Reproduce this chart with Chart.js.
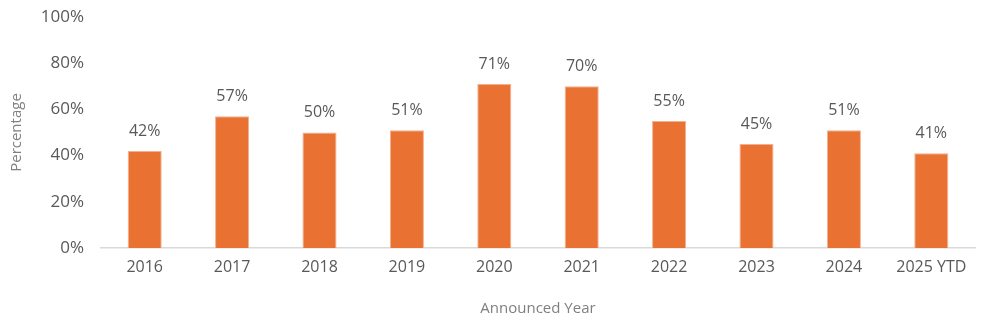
<!DOCTYPE html>
<html>
<head>
<meta charset="utf-8">
<script src="https://cdn.jsdelivr.net/npm/chart.js@4.4.1/dist/chart.umd.min.js"></script>
<style>
  html, body { margin: 0; padding: 0; background: #fff; }
  #wrap { width: 987px; height: 327px; position: relative; }
</style>
</head>
<body>
<div id="wrap"><canvas id="announcedChart"></canvas></div>
<script>
const years = ['2016', '2017', '2018', '2019', '2020', '2021', '2022', '2023', '2024', '2025 YTD']
const shares = [42, 57, 50, 51, 71, 70, 55, 45, 51, 41]
const yTicks = [0, 20, 40, 60, 80, 100]

const FONT = "'Open Sans', 'Liberation Sans', sans-serif"
const TEXT = '#595959'

// writes the percentage above each bar
const barLabels = {
    id: 'barLabels',
    afterDatasetsDraw(chart) {
        const ctx = chart.ctx
        const meta = chart.getDatasetMeta(0)
        ctx.save()
        ctx.font = '16px ' + FONT
        ctx.fillStyle = TEXT
        ctx.textAlign = 'center'
        ctx.textBaseline = 'middle'
        meta.data.forEach((bar, i) => {
            ctx.fillText(shares[i] + '%', bar.x, bar.y - 20)
        })
        ctx.restore()
    }
}

new Chart(document.getElementById('announcedChart').getContext('2d'), {
    type: 'bar',
    data: {
        labels: years,
        datasets: [{
            data: shares,
            backgroundColor: '#E97132',
            borderColor: '#F3B08C',
            borderWidth: { top: 1, left: 1, right: 1, bottom: 0 },
            barPercentage: 0.39,
            categoryPercentage: 1
        }]
    },
    options: {
        responsive: true,
        maintainAspectRatio: false,
        animation: false,
        layout: { padding: { top: 17, right: 12, left: 0, bottom: 5 } },
        plugins: {
            legend: { display: false },
            tooltip: { enabled: false }
        },
        scales: {
            x: {
                grid: { display: false, drawTicks: false },
                border: { color: '#D9D9D9', width: 1.5 },
                ticks: { color: TEXT, font: { family: FONT, size: 16 }, padding: 10, maxRotation: 0 },
                title: { display: true, text: 'Announced Year', color: '#7F7F7F', font: { family: FONT, size: 15 }, padding: { top: 14 } },
                afterFit(scale) { scale.height = 74 }
            },
            y: {
                min: 0,
                max: 100,
                afterBuildTicks(scale) { scale.ticks = yTicks.map(v => ({ value: v })) },
                grid: { display: false, drawTicks: false },
                border: { display: false },
                ticks: { color: TEXT, font: { family: FONT, size: 17 }, padding: 17, callback: v => v + '%' },
                title: { display: true, text: 'Percentage', color: '#7F7F7F', font: { family: FONT, size: 15 }, padding: { top: 8, bottom: 0 } },
                afterFit(scale) {
                    scale.width = 101
                    scale.paddingTop = 0
                    scale.paddingBottom = 0
                }
            }
        }
    },
    plugins: [barLabels]
})
</script>
</body>
</html>
